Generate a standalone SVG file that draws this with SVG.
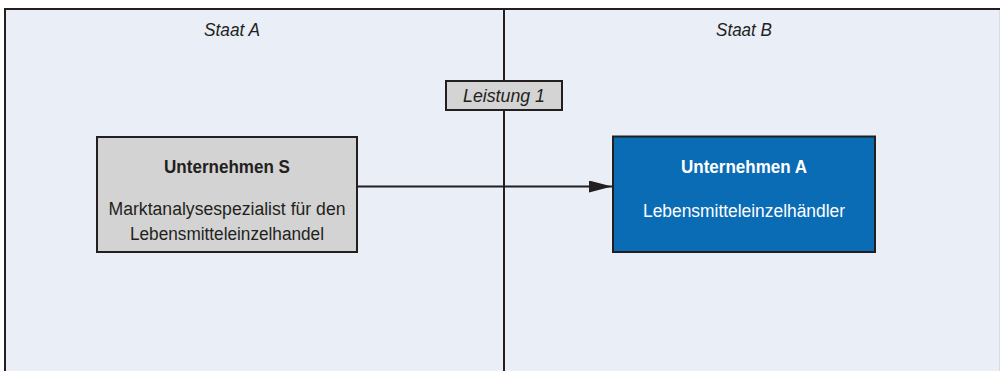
<svg xmlns="http://www.w3.org/2000/svg" width="1001" height="371" viewBox="0 0 1001 371">
  <style>
    .lbl { font-family: "Liberation Sans", Arial, sans-serif; font-size: 18px; fill: #231f20; text-anchor: middle; }
    .it { font-style: italic; }
    .b { font-weight: bold; }
    .w { fill: #ffffff; }
    .frame { fill: none; stroke: #231f20; stroke-width: 2; }
    .box { stroke: #231f20; stroke-width: 2; }
  </style>
  <defs>
    <marker id="arrow" markerWidth="23" markerHeight="12" refX="23" refY="6" orient="auto" markerUnits="userSpaceOnUse">
      <path d="M0,0 L23,6 L0,12 Z" fill="#231f20"/>
    </marker>
  </defs>

  <rect width="1001" height="371" fill="#ffffff"/>

  <!-- two country areas -->
  <g id="areas">
    <rect x="5" y="9" width="995" height="362" fill="#e9eef7"/>
    <line x1="999.5" y1="9" x2="999.5" y2="371" stroke="#d6dbe4" stroke-width="1"/>
    <path class="frame" d="M5,371 V9 H1000"/>
    <line x1="504" y1="9" x2="504" y2="371" stroke="#231f20" stroke-width="2"/>
    <text class="lbl it" x="232" y="36" textLength="56" lengthAdjust="spacingAndGlyphs">Staat A</text>
    <text class="lbl it" x="744" y="36" textLength="56" lengthAdjust="spacingAndGlyphs">Staat B</text>
  </g>

  <!-- connectors -->
  <g id="connectors">
    <line x1="357" y1="186.5" x2="612" y2="186.5" stroke="#231f20" stroke-width="2" marker-end="url(#arrow)"/>
  </g>

  <g id="leistung">
    <rect class="box" x="446" y="81" width="116" height="29" fill="#d4d4d4"/>
    <text class="lbl it" x="504" y="102" textLength="82" lengthAdjust="spacingAndGlyphs">Leistung 1</text>
  </g>

  <g id="unternehmen-s">
    <rect class="box" x="97" y="137" width="260" height="115" fill="#d3d3d3"/>
    <text class="lbl b" x="227" y="173" textLength="126" lengthAdjust="spacingAndGlyphs">Unternehmen S</text>
    <text class="lbl" x="227" y="215" textLength="237" lengthAdjust="spacingAndGlyphs">Marktanalysespezialist für den</text>
    <text class="lbl" x="227" y="240" textLength="194" lengthAdjust="spacingAndGlyphs">Lebensmitteleinzelhandel</text>
  </g>

  <g id="unternehmen-a">
    <rect class="box" x="613" y="136.5" width="262" height="115.5" fill="#0a6cb5"/>
    <text class="lbl b w" x="744" y="173" textLength="126" lengthAdjust="spacingAndGlyphs">Unternehmen A</text>
    <text class="lbl w" x="744" y="217" textLength="202" lengthAdjust="spacingAndGlyphs">Lebensmitteleinzelhändler</text>
  </g>
</svg>
